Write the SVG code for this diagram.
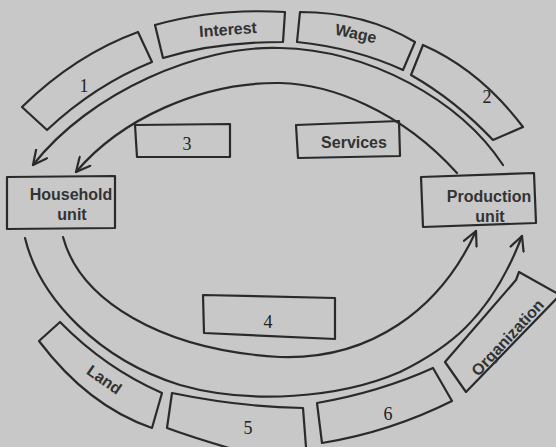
<svg xmlns="http://www.w3.org/2000/svg" width="556" height="447" viewBox="0 0 556 447">
<style>
.bg{fill:#c8c8c8}
.box{fill:none;stroke:#2a2a2a;stroke-width:2.2;stroke-linejoin:round}
.con{fill:none;stroke:#2a2a2a;stroke-width:2.2;stroke-linecap:round}
.lbl{font-family:"Liberation Sans",Arial,sans-serif;font-weight:bold;font-size:16px;fill:#333;text-anchor:middle}
.num{font-family:"Liberation Serif","Times New Roman",serif;font-size:18px;fill:#222;text-anchor:middle}
</style>
<defs>
<marker id="arr" viewBox="0 0 16 16" refX="15" refY="8" markerWidth="16" markerHeight="16" markerUnits="userSpaceOnUse" orient="auto">
<path d="M1,1 L15,8 L1,15" fill="none" stroke="#2a2a2a" stroke-width="2.2" stroke-linecap="round" stroke-linejoin="round"/>
</marker>
</defs>
<rect class="bg" x="0" y="0" width="556" height="447"/>

<g id="connectors">
<path class="con" marker-end="url(#arr)" d="M503,165 C460,100 370,50 280,48 C200,45 90,92 33,165"/>
<path class="con" marker-end="url(#arr)" d="M457,173 C400,110 330,84 280,83 C200,82 120,120 76,172"/>
<path class="con" marker-end="url(#arr)" d="M25,238 C40,300 100,360 180,385 C250,405 340,398 400,372 C445,350 490,320 522,236"/>
<path class="con" marker-end="url(#arr)" d="M63,237 C80,300 160,350 280,357 C370,360 440,310 476,231"/>
</g>

<g id="household">
<path class="box" d="M7,177 L115,176 L115,228 L7,229 Z"/>
<text class="lbl" x="71" y="200" font-size="16.5">Household</text>
<text class="lbl" x="72" y="220" font-size="16.5">unit</text>
</g>

<g id="production">
<path class="box" d="M421,177 L534,173 L536,223 L423,227 Z"/>
<text class="lbl" x="489" y="202" font-size="16.5">Production</text>
<text class="lbl" x="490" y="222" font-size="16.5">unit</text>
</g>

<g id="box1">
<path class="box" d="M22,107 Q75,55 138,32 L152,62 Q95,85 47,130 Z"/>
<text class="num" x="84" y="92" font-size="20">1</text>
</g>

<g id="interest">
<path class="box" d="M155,25 Q215,8 285,12 L283,42 Q215,42 163,58 Z"/>
<text class="lbl" x="228" y="35" transform="rotate(-4 228 30)">Interest</text>
</g>

<g id="wage">
<path class="box" d="M300,12 Q365,12 415,42 L403,70 Q355,48 297,42 Z"/>
<text class="lbl" x="356" y="39" transform="rotate(12 356 33)">Wage</text>
</g>

<g id="box2">
<path class="box" d="M423,45 Q480,70 523,127 L493,140 Q455,100 411,75 Z"/>
<text class="num" x="487" y="103" font-size="17">2</text>
</g>

<g id="box3">
<path class="box" d="M135,125 L230,124 L230,157 L137,157 Z"/>
<text class="num" x="187" y="150" font-size="19">3</text>
</g>

<g id="services">
<path class="box" d="M296,125 L399,121 L400,156 L298,158 Z"/>
<text class="lbl" x="354" y="148" font-size="16.5">Services</text>
</g>

<g id="box4">
<path class="box" d="M203,295 L335,298 L335,339 L204,333 Z"/>
<text class="num" x="268" y="328">4</text>
</g>

<g id="land">
<path class="box" d="M60,322 Q105,368 162,393 L152,428 Q88,406 39,341 Z"/>
<text class="lbl" x="104" y="385" font-size="15.5" transform="rotate(35 104 380)">Land</text>
</g>

<g id="box5">
<path class="box" d="M172,393 Q240,407 303,408 L307,460 L250,454 Q200,440 167,428 Z"/>
<text class="num" x="248" y="434">5</text>
</g>

<g id="box6">
<path class="box" d="M317,403 Q380,392 433,368 L452,401 Q390,432 322,443 Z"/>
<text class="num" x="388" y="420">6</text>
</g>

<g id="organization">
<path class="box" d="M445,362 L516,280 L519,272 L560,295 L466,392 Z"/>
<text class="lbl" x="508" y="343" font-size="15.5" transform="rotate(-47 508 338)">Organization</text>
</g>
</svg>
